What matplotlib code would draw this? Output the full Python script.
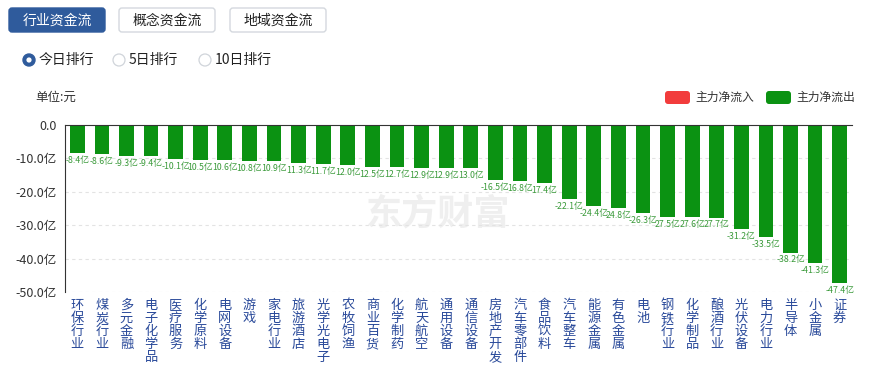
import matplotlib
matplotlib.use("Agg")
import matplotlib.pyplot as plt
from matplotlib.patches import FancyBboxPatch, Circle
import numpy as np

plt.rcParams["font.family"] = ["Noto Sans CJK SC", "DejaVu Sans"]

# ── data (亿元) ──────────────────────────────────────────────────────────────
sectors = [
    "环保行业", "煤炭行业", "多元金融", "电子化学品", "医疗服务", "化学原料",
    "电网设备", "游戏", "家电行业", "旅游酒店", "光学光电子", "农牧饲渔",
    "商业百货", "化学制药", "航天航空", "通用设备", "通信设备", "房地产开发",
    "汽车零部件", "食品饮料", "汽车整车", "能源金属", "有色金属", "电池",
    "钢铁行业", "化学制品", "酿酒行业", "光伏设备", "电力行业", "半导体",
    "小金属", "证券",
]
net_flow = [
    -8.4, -8.6, -9.3, -9.4, -10.1, -10.5, -10.6, -10.8, -10.9, -11.3, -11.7,
    -12.0, -12.5, -12.7, -12.9, -12.9, -13.0, -16.5, -16.8, -17.4, -22.1,
    -24.4, -24.8, -26.3, -27.5, -27.6, -27.7, -31.2, -33.5, -38.2, -41.3, -47.4,
]
y_ticks = [0, -10, -20, -30, -40, -50]
tabs = ["行业资金流", "概念资金流", "地域资金流"]
ranks = ["今日排行", "5日排行", "10日排行"]
legend_labels = ["主力净流入", "主力净流出"]

GREEN = "#0b9212"
RED = "#f23c3c"
NAVY = "#2a4a9a"
W, H = 871, 367

fig = plt.figure(figsize=(W / 100, H / 100), dpi=100)

# background layer in pixel coordinates
bg = fig.add_axes([0, 0, 1, 1], zorder=0)
bg.set_xlim(0, W)
bg.set_ylim(H, 0)
bg.axis("off")

# ── tabs ─────────────────────────────────────────────────────────────────────
tab_x = [7, 117, 228]
for i, (name, x0) in enumerate(zip(tabs, tab_x)):
    active = i == 0
    box = FancyBboxPatch((x0 + 2, 8), 96, 24, boxstyle="round,pad=0,rounding_size=3",
                         facecolor="#2f5b9c" if active else "white",
                         edgecolor="#2f5b9c" if active else "#d4d8de", linewidth=1)
    bg.add_patch(box)
    bg.text(x0 + 50, 20.5, name, ha="center", va="center", fontsize=10,
            color="white" if active else "#222222")

# ── radio buttons ────────────────────────────────────────────────────────────
radio_x = [29, 119, 205]
for i, (name, cx) in enumerate(zip(ranks, radio_x)):
    if i == 0:
        bg.add_patch(Circle((cx, 60), 6, facecolor="#2f5b9c", edgecolor="#2f5b9c"))
        bg.add_patch(Circle((cx, 60), 2.6, facecolor="white", edgecolor="none"))
    else:
        bg.add_patch(Circle((cx, 60), 6, facecolor="white", edgecolor="#d0d4da", lw=0.9))
    bg.text(cx + 10, 60, name, ha="left", va="center", fontsize=10, color="#222222")

bg.text(35, 97, "单位:元", ha="left", va="center", fontsize=9, color="#333333")

# ── legend ───────────────────────────────────────────────────────────────────
for (x0, col, lab) in zip([665, 766], [RED, GREEN], legend_labels):
    bg.add_patch(FancyBboxPatch((x0, 91), 25, 13, boxstyle="round,pad=0,rounding_size=3",
                                facecolor=col, edgecolor="none"))
    bg.text(x0 + 30, 97.5, lab, ha="left", va="center", fontsize=8.5, color="#333333")

# watermark
bg.text(438, 214, "东方财富", ha="center", va="center", fontsize=26,
        fontweight="bold", color="#efefef", zorder=0)

# ── chart ────────────────────────────────────────────────────────────────────
x0_px, x1_px, y0_px, y1_px = 65, 852, 125, 292
ax = fig.add_axes([x0_px / W, 1 - y1_px / H, (x1_px - x0_px) / W, (y1_px - y0_px) / H],
                  zorder=1)
ax.set_facecolor("none")
n = len(sectors)
x = np.arange(n)
ax.bar(x, net_flow, width=0.6, color=GREEN, zorder=3)
ax.set_xlim(-0.5, n - 0.5)
ax.set_ylim(-50, 0)

for s in ["right", "bottom"]:
    ax.spines[s].set_visible(False)
ax.spines["top"].set_color("#333333")
ax.spines["left"].set_color("#333333")
ax.spines["top"].set_zorder(4)

ax.set_yticks(y_ticks)
ax.set_yticklabels(["0.0" if v == 0 else f"{v:.1f}亿" for v in y_ticks],
                   fontsize=9, color="#333333")
ax.tick_params(axis="y", length=0, pad=6)
for v in y_ticks[1:]:
    ax.axhline(v, color="#e3e3e3", linestyle=(0, (3, 3)), linewidth=0.8, zorder=1)

ax.set_xticks(x)
ax.set_xticklabels(["\n".join(s) for s in sectors], fontsize=9.5, color=NAVY,
                   va="top", linespacing=1.0)
ax.tick_params(axis="x", length=0, pad=5)

# value labels; overlapped minus signs are hidden like in the source widget
prev = None
for i, v in enumerate(net_flow):
    show_minus = prev is None or abs(prev) < 10 or abs(v - prev) >= 1.4
    txt = (f"{v:.1f}" if show_minus else f"{abs(v):.1f}") + "亿"
    ax.annotate(txt, (i, v), xytext=(0, -2), textcoords="offset points",
                ha="center", va="top", fontsize=6.3, color="#3a9a3a", zorder=5)
    prev = v

fig.savefig("out.png", dpi=100)
